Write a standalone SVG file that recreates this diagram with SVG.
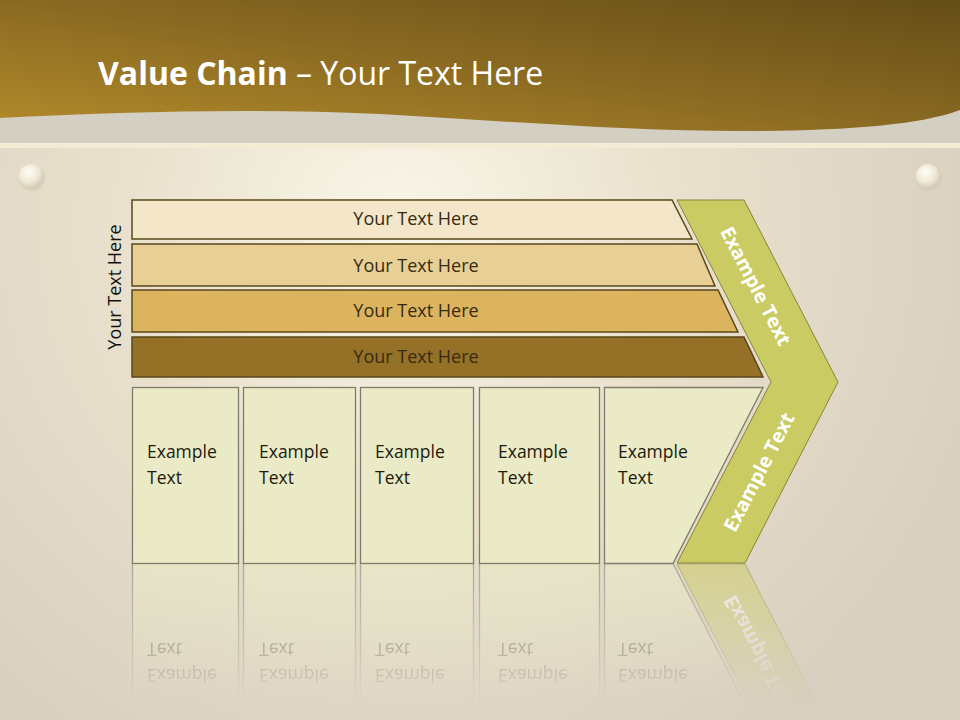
<svg xmlns="http://www.w3.org/2000/svg" xmlns:xlink="http://www.w3.org/1999/xlink" width="960" height="720" viewBox="0 0 960 720">
<defs>
<radialGradient id="bg" cx="400" cy="230" r="620" gradientUnits="userSpaceOnUse">
<stop offset="0" stop-color="#FAF6E8"/>
<stop offset="0.45" stop-color="#E9E1CD"/>
<stop offset="1" stop-color="#D8CFC0"/>
</radialGradient>
<linearGradient id="hdr" x1="0" y1="1" x2="1" y2="0">
<stop offset="0" stop-color="#B38B2B"/>
<stop offset="0.5" stop-color="#8A6A22"/>
<stop offset="1" stop-color="#654D17"/>
</linearGradient>
<radialGradient id="screw" cx="0.4" cy="0.35" r="0.7">
<stop offset="0" stop-color="#FFFDF5"/>
<stop offset="0.6" stop-color="#EFE8D6"/>
<stop offset="1" stop-color="#CFC6B2"/>
</radialGradient>
<linearGradient id="fade" x1="0" y1="563" x2="0" y2="705" gradientUnits="userSpaceOnUse">
<stop offset="0" stop-color="#fff" stop-opacity="0.55"/>
<stop offset="1" stop-color="#fff" stop-opacity="0"/>
</linearGradient>
<mask id="refl" maskUnits="userSpaceOnUse" x="0" y="563" width="960" height="157">
<rect x="0" y="563" width="960" height="157" fill="url(#fade)"/>
</mask>
<style>
.bar{stroke:#5A4718;stroke-width:1.5}
.bt{font-family:"Open Sans","Noto Sans",sans-serif;font-size:18px;fill:#362B12;text-anchor:middle}
.box{fill:#EAEBC6;stroke:#7D7B6A;stroke-width:1.3}
.et{font-family:"Open Sans","Noto Sans",sans-serif;font-size:17.5px;fill:#1E1A0E}
.cv{font-family:"Open Sans","Noto Sans",sans-serif;font-size:19.5px;font-weight:bold;fill:#FFFFFF;text-anchor:middle}
</style>
</defs>
<rect width="960" height="720" fill="url(#bg)"/>
<rect x="0" y="100" width="960" height="45" fill="#D4CFC3"/>
<path d="M0,118 C120,112 250,108 380,114 C520,122 640,132 760,131 C850,130 920,125 960,110 L960,0 L0,0 Z" fill="url(#hdr)"/>
<rect x="0" y="143" width="960" height="5" fill="#F3EBD3"/>
<g id="screws">
<circle cx="32" cy="178" r="13" fill="#CFC6B0" opacity="0.5"/>
<circle cx="31" cy="176" r="12" fill="url(#screw)"/>
<circle cx="929" cy="178" r="13" fill="#CFC6B0" opacity="0.5"/>
<circle cx="928" cy="176" r="12" fill="url(#screw)"/>
</g>
<text x="98" y="85" font-family="Open Sans, Noto Sans, sans-serif" font-size="32" fill="#FFFFFF"><tspan font-weight="bold">Value Chain</tspan> – Your Text Here</text>
<text transform="translate(121,287) rotate(-90)" font-family="Open Sans, Noto Sans, sans-serif" font-size="18" fill="#111" text-anchor="middle">Your Text Here</text>
<g id="content">
<g id="bar1"><polygon class="bar" points="132,200 672,200 692,239 132,239" fill="#F4E6C9"/><text class="bt" x="416" y="225">Your Text Here</text></g>
<g id="bar2"><polygon class="bar" points="132,244 697,244 715,286 132,286" fill="#E8CF96"/><text class="bt" x="416" y="272">Your Text Here</text></g>
<g id="bar3"><polygon class="bar" points="132,290 718,290 738,332 132,332" fill="#DCB45F"/><text class="bt" x="416" y="317">Your Text Here</text></g>
<g id="bar4"><polygon class="bar" points="132,337 744,337 763,377 132,377" fill="#947126"/><text class="bt" x="416" y="363">Your Text Here</text></g>
<g id="box1"><rect class="box" x="132.5" y="387.5" width="106" height="176"/><text class="et" x="147" y="458">Example</text><text class="et" x="147" y="484">Text</text></g>
<g id="box2"><rect class="box" x="243.5" y="387.5" width="112" height="176"/><text class="et" x="259" y="458">Example</text><text class="et" x="259" y="484">Text</text></g>
<g id="box3"><rect class="box" x="360.5" y="387.5" width="113" height="176"/><text class="et" x="375" y="458">Example</text><text class="et" x="375" y="484">Text</text></g>
<g id="box4"><rect class="box" x="479.5" y="387.5" width="120" height="176"/><text class="et" x="498" y="458">Example</text><text class="et" x="498" y="484">Text</text></g>
<g id="box5"><polygon class="box" points="604.5,387.5 763,387.5 673,563.5 604.5,563.5"/><text class="et" x="618" y="458">Example</text><text class="et" x="618" y="484">Text</text></g>
<g id="chevron"><polygon points="677,200 744,200 838,382 745,563 677,563 771,382" fill="#CBCB63" stroke="#85853A" stroke-width="1"/>
<text class="cv" transform="translate(756,286) rotate(62.7)" dy="7">Example Text</text>
<text class="cv" transform="translate(759,472) rotate(-62.7)" dy="7">Example Text</text></g>
</g>
<g id="reflection" mask="url(#refl)">
<use xlink:href="#content" transform="translate(0,1127) scale(1,-1)"/>
</g>
</svg>
